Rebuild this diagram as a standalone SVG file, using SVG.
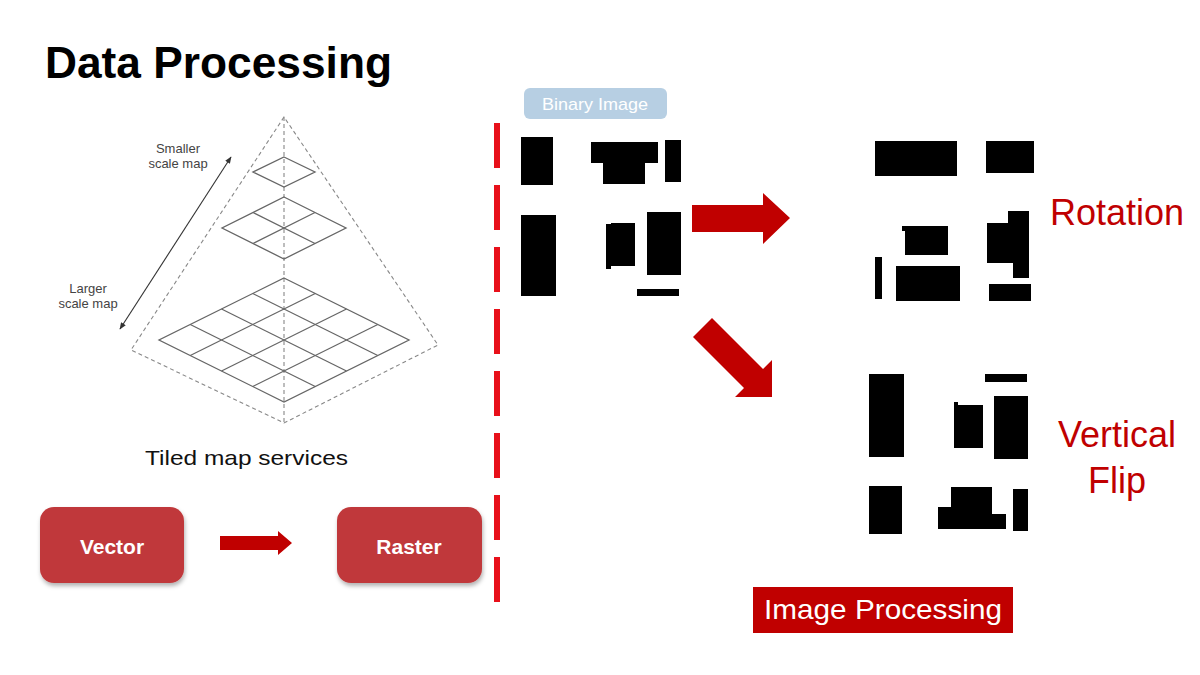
<svg xmlns="http://www.w3.org/2000/svg" width="1200" height="675" viewBox="0 0 1200 675">
<defs>
<style>
.title{font-family:"Liberation Sans",Arial,sans-serif;font-weight:bold;font-size:44px;fill:#000}
.small{font-family:"Liberation Sans",Arial,sans-serif;font-size:13px;fill:#444;text-anchor:middle}
.caption{font-family:"Liberation Sans",Arial,sans-serif;font-size:21px;fill:#111}
.pdash{fill:none;stroke:#888;stroke-width:1.1;stroke-dasharray:4 3}
.grid{fill:none;stroke:#666;stroke-width:1.3}
.box{fill:#c0393b}
.boxtxt{font-family:"Liberation Sans",Arial,sans-serif;font-weight:bold;font-size:21px;fill:#fff;text-anchor:middle}
.redarrow{fill:#c00000}
.blk{fill:#000}
.lbl{font-family:"Liberation Sans",Arial,sans-serif;font-size:36px;fill:#c00000;text-anchor:middle}
</style>
<marker id="ah" viewBox="0 0 10 10" refX="9" refY="5" markerWidth="7" markerHeight="7" orient="auto-start-reverse" markerUnits="userSpaceOnUse">
<path d="M0,1 L10,5 L0,9 z" fill="#333"/>
</marker>
<filter id="sh" x="-10%" y="-10%" width="130%" height="140%">
<feDropShadow dx="1" dy="3" stdDeviation="2" flood-color="#000" flood-opacity="0.3"/>
</filter>
</defs>
<rect width="1200" height="675" fill="#fff"/>

<text class="title" x="45" y="78" textLength="347" lengthAdjust="spacingAndGlyphs">Data Processing</text>

<g id="pyramid">
<polygon class="pdash" points="284,117 131,350 284,423 438,345"/>
<line class="pdash" x1="284" y1="117" x2="284" y2="423"/>
<polygon class="grid" points="284,157 315,172 284,187 253,172" fill="#fff"/>
<g class="grid">
<polygon points="284,197 346,228 284,259 222,228"/>
<line x1="315" y1="212.5" x2="253" y2="243.5"/>
<line x1="253" y1="212.5" x2="315" y2="243.5"/>
</g>
<g class="grid">
<polygon points="284,278 409,340 284,402 159,340"/>
<line x1="315.25" y1="293.5" x2="190.25" y2="355.5"/>
<line x1="346.5" y1="309" x2="221.5" y2="371"/>
<line x1="377.75" y1="324.5" x2="252.75" y2="386.5"/>
<line x1="252.75" y1="293.5" x2="377.75" y2="355.5"/>
<line x1="221.5" y1="309" x2="346.5" y2="371"/>
<line x1="190.25" y1="324.5" x2="315.25" y2="386.5"/>
</g>
<line x1="120" y1="329" x2="231" y2="157" stroke="#333" stroke-width="1.1" marker-start="url(#ah)" marker-end="url(#ah)"/>
<text class="small" x="178" y="153">Smaller</text>
<text class="small" x="178" y="168">scale map</text>
<text class="small" x="88" y="293">Larger</text>
<text class="small" x="88" y="308">scale map</text>
</g>

<text class="caption" x="145" y="465" textLength="203" lengthAdjust="spacingAndGlyphs">Tiled map services</text>

<g id="vector">
<rect class="box" x="40" y="507" width="144" height="76" rx="14" filter="url(#sh)"/>
<text class="boxtxt" x="112" y="554">Vector</text>
</g>
<g id="raster">
<rect class="box" x="337" y="507" width="145" height="76" rx="14" filter="url(#sh)"/>
<text class="boxtxt" x="409" y="554">Raster</text>
</g>

<g id="connectors">
<polygon class="redarrow" points="220,536 278,536 278,531 292,543 278,555 278,550 220,550"/>
<polygon class="redarrow" points="692,205 763,205 763,193 790,218 763,244 763,232 692,232"/>
<polygon class="redarrow" points="693,337 712,318 763,369 772,360 772,397 735,397 744,388"/>
</g>

<line x1="497" y1="123" x2="497" y2="602" stroke="#e8101a" stroke-width="6" stroke-dasharray="45 17"/>

<g id="binary-label">
<rect x="524" y="88" width="143" height="31" rx="6" fill="#b7cfe3"/>
<text x="595" y="110" font-family="'Liberation Sans',Arial,sans-serif" font-size="17" fill="#fff" text-anchor="middle" textLength="106" lengthAdjust="spacingAndGlyphs">Binary Image</text>
</g>

<g id="binary-image">
<rect class="blk" x="521" y="137" width="32" height="48"/>
<polygon class="blk" points="591,142 658,142 658,163 645,163 645,184 603,184 603,163 591,163"/>
<rect class="blk" x="665" y="140" width="16" height="42"/>
<rect class="blk" x="521" y="215" width="35" height="81"/>
<polygon class="blk" points="606,224 611,224 611,223 635,223 635,266 611,266 611,269 606,269"/>
<rect class="blk" x="647" y="212" width="34" height="63"/>
<rect class="blk" x="637" y="289" width="42" height="7"/>
</g>

<g id="rotated-image">
<rect class="blk" x="875" y="141" width="82" height="35"/>
<rect class="blk" x="986" y="141" width="48" height="32"/>
<polygon class="blk" points="902,226 948,226 948,255 905,255 905,231 902,231"/>
<rect class="blk" x="875" y="257" width="7" height="42"/>
<rect class="blk" x="896" y="266" width="64" height="35"/>
<polygon class="blk" points="1008,211 1029,211 1029,278 1013,278 1013,263 987,263 987,223 1008,223"/>
<rect class="blk" x="989" y="284" width="42" height="17"/>
</g>
<text class="lbl" x="1117" y="225">Rotation</text>

<g id="flipped-image">
<rect class="blk" x="869" y="374" width="35" height="83"/>
<rect class="blk" x="985" y="374" width="42" height="8"/>
<polygon class="blk" points="954,402 958,402 958,405 983,405 983,448 954,448"/>
<rect class="blk" x="994" y="396" width="34" height="63"/>
<rect class="blk" x="869" y="486" width="33" height="48"/>
<polygon class="blk" points="951,487 992,487 992,514 1006,514 1006,529 938,529 938,507 951,507"/>
<rect class="blk" x="1013" y="489" width="15" height="42"/>
</g>
<text class="lbl" x="1117" y="447">Vertical</text>
<text class="lbl" x="1117" y="493">Flip</text>

<g id="image-processing">
<rect x="753" y="587" width="260" height="46" fill="#c00000"/>
<text x="883" y="619" font-family="'Liberation Sans',Arial,sans-serif" font-size="28" fill="#fff" text-anchor="middle" textLength="238" lengthAdjust="spacingAndGlyphs">Image Processing</text>
</g>
</svg>
